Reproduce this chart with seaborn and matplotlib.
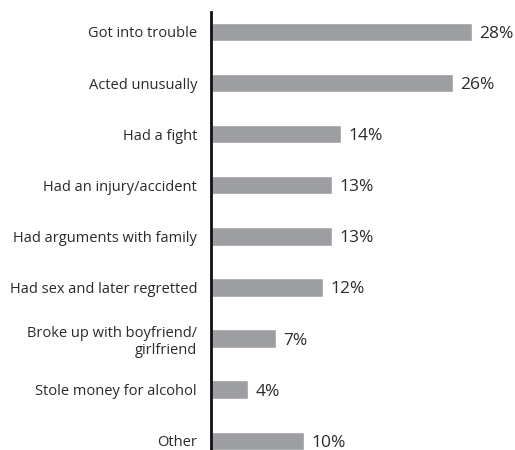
import matplotlib
matplotlib.use("Agg")
import matplotlib.pyplot as plt
import seaborn as sns
import pandas as pd

categories = ["Got into trouble", "Acted unusually", "Had a fight", "Had an injury/accident",
              "Had arguments with family", "Had sex and later regretted",
              "Broke up with boyfriend/\ngirlfriend", "Stole money for alcohol", "Other"]
values = [28, 26, 14, 13, 13, 12, 7, 4, 10]
value_labels = ["28%", "26%", "14%", "13%", "13%", "12%", "7%", "4%", "10%"]

sns.set_style("white")
plt.rcParams['font.family'] = ['Open Sans', 'DejaVu Sans']

W, H = 515, 450
fig = plt.figure(figsize=(W/100, H/100), dpi=100)
ax = fig.add_axes([211/W, 0, (W-211)/W, (H-12)/H])

df = pd.DataFrame({"cat": categories, "val": values})
sns.barplot(data=df, x="val", y="cat", orient="h", color="#9d9ea1", width=0.36,
            saturation=1, ax=ax)

ax.set_xlim(0, (W-211)/9.31)
ax.set_ylim(8.18, -0.39)
ax.set_xlabel("")
ax.set_ylabel("")
ax.set_xticks([])
for s in ["top", "right", "bottom"]:
    ax.spines[s].set_visible(False)
ax.spines["left"].set_linewidth(2)
ax.spines["left"].set_color("#111111")
ax.tick_params(axis="y", length=0, pad=10, labelsize=10.5, labelcolor="#2a2a2a")
for lbl in ax.get_yticklabels():
    lbl.set_multialignment("right")

for i, (v, t) in enumerate(zip(values, value_labels)):
    ax.text(v + 0.8, i, t, va="center_baseline", ha="left", fontsize=12.5, color="#2a2a2a")

fig.savefig("out.png", dpi=100)
